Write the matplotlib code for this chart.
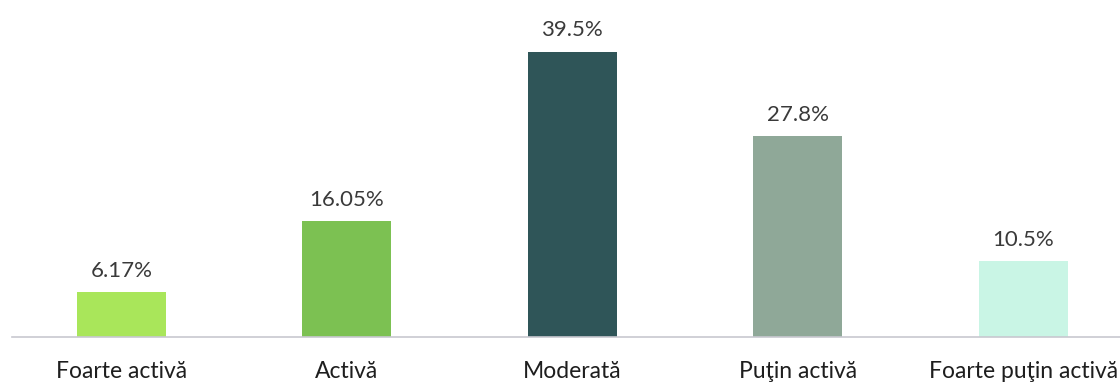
import matplotlib
matplotlib.use("Agg")
import matplotlib.pyplot as plt

categories = ["Foarte activă", "Activă", "Moderată", "Puţin activă", "Foarte puţin activă"]
values = [6.17, 16.05, 39.5, 27.8, 10.5]
value_labels = ["6.17%", "16.05%", "39.5%", "27.8%", "10.5%"]
colors = ["#a9e65a", "#7cc152", "#2f5558", "#8fa898", "#c9f5e5"]

plt.rcParams['font.family'] = ['Lato', 'DejaVu Sans']

W, H = 1120, 383
fig = plt.figure(figsize=(W / 100, H / 100), dpi=100)
ax = fig.add_axes([12 / W, 46 / H, (W - 12) / W, 337 / H])

x = list(range(len(categories)))
bars = ax.bar(x, values, width=0.395, color=colors, zorder=2)

for b, lab in zip(bars, value_labels):
    ax.annotate(lab, (b.get_x() + b.get_width() / 2, b.get_height()),
                xytext=(0, 11), textcoords="offset points",
                ha="center", va="baseline", fontsize=16, color="#3a3a3a")

ax.set_xlim(-0.486, 4.43)
ax.set_ylim(0, 46.66)
ax.set_xticks(x)
ax.set_xticklabels(categories, fontsize=16.5, color="#1e1e1e")
ax.tick_params(axis="x", length=0, pad=17)
ax.set_yticks([])
for s in ["top", "right", "left"]:
    ax.spines[s].set_visible(False)
ax.spines["bottom"].set_color("#c8c8d0")
ax.spines["bottom"].set_linewidth(1.2)

fig.savefig("out.png", dpi=100)
